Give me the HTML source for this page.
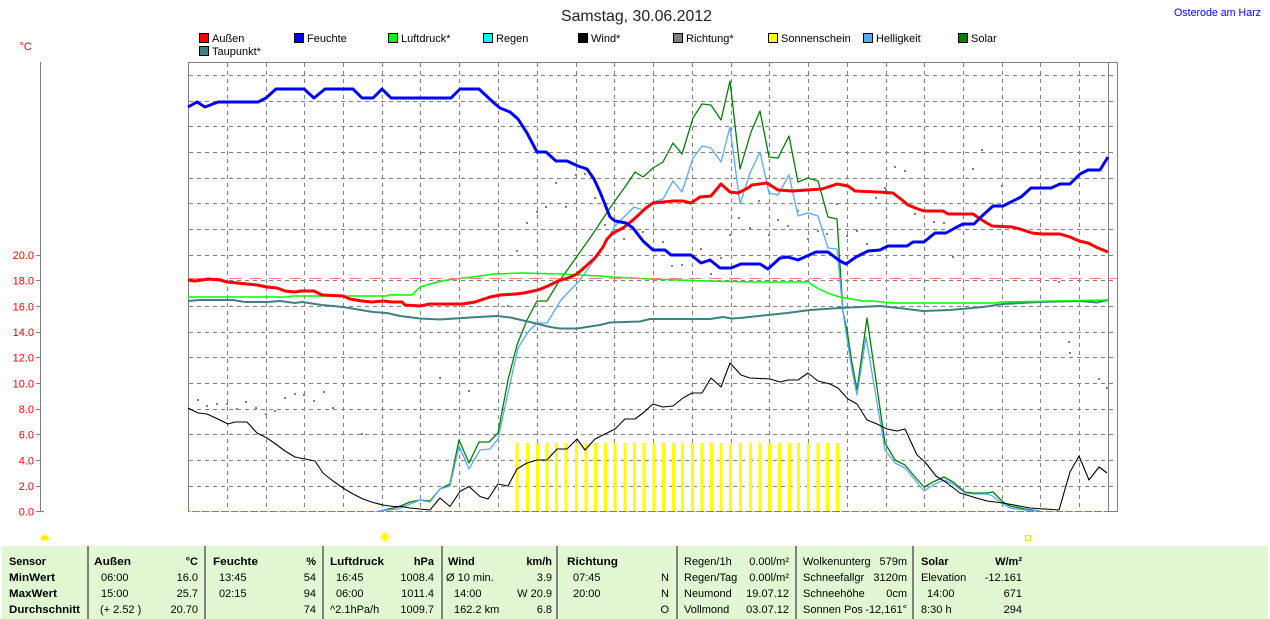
<!DOCTYPE html>
<html><head><meta charset="utf-8"><style>
html,body{margin:0;padding:0;background:#fff;}
svg{display:block;font-family:"Liberation Sans",Arial,sans-serif;}
</style></head><body>
<svg width="1270" height="619" viewBox="0 0 1270 619" xmlns="http://www.w3.org/2000/svg">
<rect width="1270" height="619" fill="#fff"/>
<!-- title -->
<text x="561" y="21" font-size="16" fill="#222" textLength="151" lengthAdjust="spacingAndGlyphs">Samstag, 30.06.2012</text>
<text x="1174" y="16" font-size="11" fill="#0000ff" textLength="87" lengthAdjust="spacingAndGlyphs">Osterode am Harz</text>
<text x="19.5" y="50" font-size="11" fill="#ff0000">°C</text>

<!-- legend -->
<g font-size="11" fill="#000">
<g stroke="#000" stroke-width="1" shape-rendering="crispEdges">
<rect x="199.5" y="33.5" width="9" height="9" fill="#ff0000"/>
<rect x="294.5" y="33.5" width="9" height="9" fill="#0000ff"/>
<rect x="388.5" y="33.5" width="9" height="9" fill="#00ff00"/>
<rect x="483.5" y="33.5" width="9" height="9" fill="#00ffff"/>
<rect x="578.5" y="33.5" width="9" height="9" fill="#000000"/>
<rect x="673.5" y="33.5" width="9" height="9" fill="#808080"/>
<rect x="768.5" y="33.5" width="9" height="9" fill="#ffff00"/>
<rect x="863.5" y="33.5" width="9" height="9" fill="#55aaff"/>
<rect x="958.5" y="33.5" width="9" height="9" fill="#008000"/>
<rect x="199.5" y="46.5" width="9" height="9" fill="#408080"/>
</g>
<text x="212" y="42">Außen</text>
<text x="307" y="42">Feuchte</text>
<text x="401" y="42">Luftdruck*</text>
<text x="496" y="42">Regen</text>
<text x="591" y="42">Wind*</text>
<text x="686" y="42">Richtung*</text>
<text x="781" y="42">Sonnenschein</text>
<text x="876" y="42">Helligkeit</text>
<text x="971" y="42">Solar</text>
<text x="212" y="55">Taupunkt*</text>
</g>

<!-- y axis -->
<g stroke="#808080" stroke-width="1" shape-rendering="crispEdges">
<line x1="40.5" y1="62" x2="40.5" y2="512"/>
<line x1="36" y1="511.5" x2="44" y2="511.5"/>
<line x1="36" y1="486.5" x2="40" y2="486.5"/>
<line x1="36" y1="460.5" x2="40" y2="460.5"/>
<line x1="36" y1="434.5" x2="40" y2="434.5"/>
<line x1="36" y1="409.5" x2="40" y2="409.5"/>
<line x1="36" y1="383.5" x2="40" y2="383.5"/>
<line x1="36" y1="357.5" x2="40" y2="357.5"/>
<line x1="36" y1="332.5" x2="40" y2="332.5"/>
<line x1="36" y1="306.5" x2="40" y2="306.5"/>
<line x1="36" y1="280.5" x2="40" y2="280.5"/>
<line x1="36" y1="255.5" x2="40" y2="255.5"/>
</g>
<g font-size="11" fill="#ff0000" text-anchor="end">
<text x="34" y="515.5">0.0</text>
<text x="34" y="490">2.0</text>
<text x="34" y="464.5">4.0</text>
<text x="34" y="438.5">6.0</text>
<text x="34" y="413">8.0</text>
<text x="34" y="387.5">10.0</text>
<text x="34" y="361.5">12.0</text>
<text x="34" y="336">14.0</text>
<text x="34" y="310.5">16.0</text>
<text x="34" y="284.5">18.0</text>
<text x="34" y="259">20.0</text>
</g>

<!-- grid -->
<g stroke="#808080" stroke-width="1" stroke-dasharray="4,4" shape-rendering="crispEdges">
<line x1="227.5" y1="63" x2="227.5" y2="511"/>
<line x1="266.5" y1="63" x2="266.5" y2="511"/>
<line x1="304.5" y1="63" x2="304.5" y2="511"/>
<line x1="343.5" y1="63" x2="343.5" y2="511"/>
<line x1="382.5" y1="63" x2="382.5" y2="511"/>
<line x1="420.5" y1="63" x2="420.5" y2="511"/>
<line x1="459.5" y1="63" x2="459.5" y2="511"/>
<line x1="498.5" y1="63" x2="498.5" y2="511"/>
<line x1="537.5" y1="63" x2="537.5" y2="511"/>
<line x1="576.5" y1="63" x2="576.5" y2="511"/>
<line x1="614.5" y1="63" x2="614.5" y2="511"/>
<line x1="653.5" y1="63" x2="653.5" y2="511"/>
<line x1="692.5" y1="63" x2="692.5" y2="511"/>
<line x1="731.5" y1="63" x2="731.5" y2="511"/>
<line x1="769.5" y1="63" x2="769.5" y2="511"/>
<line x1="808.5" y1="63" x2="808.5" y2="511"/>
<line x1="847.5" y1="63" x2="847.5" y2="511"/>
<line x1="886.5" y1="63" x2="886.5" y2="511"/>
<line x1="924.5" y1="63" x2="924.5" y2="511"/>
<line x1="963.5" y1="63" x2="963.5" y2="511"/>
<line x1="1002.5" y1="63" x2="1002.5" y2="511"/>
<line x1="1040.5" y1="63" x2="1040.5" y2="511"/>
<line x1="1079.5" y1="63" x2="1079.5" y2="511"/>
<line x1="189" y1="486.5" x2="1117" y2="486.5"/>
<line x1="189" y1="460.5" x2="1117" y2="460.5"/>
<line x1="189" y1="434.5" x2="1117" y2="434.5"/>
<line x1="189" y1="409.5" x2="1117" y2="409.5"/>
<line x1="189" y1="383.5" x2="1117" y2="383.5"/>
<line x1="189" y1="357.5" x2="1117" y2="357.5"/>
<line x1="189" y1="332.5" x2="1117" y2="332.5"/>
<line x1="189" y1="306.5" x2="1117" y2="306.5"/>
<line x1="189" y1="280.5" x2="1117" y2="280.5"/>
<line x1="189" y1="255.5" x2="1117" y2="255.5"/>
<line x1="189" y1="229.5" x2="1117" y2="229.5"/>
<line x1="189" y1="203.5" x2="1117" y2="203.5"/>
<line x1="189" y1="178.5" x2="1117" y2="178.5"/>
<line x1="189" y1="152.5" x2="1117" y2="152.5"/>
<line x1="189" y1="126.5" x2="1117" y2="126.5"/>
<line x1="189" y1="101.5" x2="1117" y2="101.5"/>
<line x1="189" y1="75.5" x2="1117" y2="75.5"/>
</g>

<!-- plot border -->
<rect x="188.5" y="62.5" width="929" height="449" fill="none" stroke="#808080" stroke-width="1" shape-rendering="crispEdges"/>
<line x1="1108.5" y1="62" x2="1108.5" y2="511" stroke="#808080" stroke-width="1" shape-rendering="crispEdges"/>

<!-- sunshine bars -->
<g fill="#ffff00" shape-rendering="crispEdges">
<rect x="515.5" y="443" width="3" height="68"/>
<rect x="526" y="443" width="3" height="68"/>
<rect x="536" y="443" width="3" height="68"/>
<rect x="545.5" y="443" width="3" height="68"/>
<rect x="555" y="443" width="3" height="68"/>
<rect x="564.5" y="443" width="3" height="68"/>
<rect x="575" y="443" width="3" height="68"/>
<rect x="584.5" y="443" width="3" height="68"/>
<rect x="594" y="443" width="3" height="68"/>
<rect x="604" y="443" width="3" height="68"/>
<rect x="613.5" y="443" width="3" height="68"/>
<rect x="623.5" y="443" width="3" height="68"/>
<rect x="633" y="443" width="3" height="68"/>
<rect x="642.5" y="443" width="3" height="68"/>
<rect x="652.5" y="443" width="3" height="68"/>
<rect x="662" y="443" width="3" height="68"/>
<rect x="672" y="443" width="3" height="68"/>
<rect x="681" y="443" width="3" height="68"/>
<rect x="691" y="443" width="3" height="68"/>
<rect x="700.5" y="443" width="3" height="68"/>
<rect x="710" y="443" width="3" height="68"/>
<rect x="719.5" y="443" width="3" height="68"/>
<rect x="729" y="443" width="3" height="68"/>
<rect x="739" y="443" width="3" height="68"/>
<rect x="749" y="443" width="3" height="68"/>
<rect x="758.5" y="443" width="3" height="68"/>
<rect x="768" y="443" width="3" height="68"/>
<rect x="778" y="443" width="3" height="68"/>
<rect x="788" y="443" width="3" height="68"/>
<rect x="797" y="443" width="3" height="68"/>
<rect x="807" y="443" width="3" height="68"/>
<rect x="816.5" y="443" width="3" height="68"/>
<rect x="826" y="443" width="3" height="68"/>
<rect x="836" y="443" width="3" height="68"/>
</g>
<line x1="190" y1="511.5" x2="1108" y2="511.5" stroke="#ffff00" stroke-width="1" stroke-dasharray="2,7.7" shape-rendering="crispEdges"/>

<!-- Richtung dots -->
<g fill="#808080" shape-rendering="crispEdges">
<rect x="197" y="399" width="2" height="2"/><rect x="206" y="405" width="2" height="2"/><rect x="216" y="403" width="2" height="2"/><rect x="226" y="403" width="2" height="2"/><rect x="236" y="408" width="2" height="2"/><rect x="245" y="401" width="2" height="2"/><rect x="255" y="407" width="2" height="2"/><rect x="265" y="413" width="2" height="2"/><rect x="274" y="410" width="2" height="2"/><rect x="284" y="397" width="2" height="2"/><rect x="294" y="393" width="2" height="2"/><rect x="303" y="394" width="2" height="2"/><rect x="313" y="400" width="2" height="2"/><rect x="323" y="391" width="2" height="2"/><rect x="332" y="407" width="2" height="2"/><rect x="361" y="433" width="2" height="2"/><rect x="439" y="377" width="2" height="2"/><rect x="468" y="390" width="2" height="2"/><rect x="507" y="305" width="2" height="2"/><rect x="516" y="250" width="2" height="2"/><rect x="526" y="222" width="2" height="2"/><rect x="536" y="211" width="2" height="2"/><rect x="545" y="206" width="2" height="2"/><rect x="555" y="182" width="2" height="2"/><rect x="565" y="206" width="2" height="2"/><rect x="575" y="174" width="2" height="2"/><rect x="584" y="173" width="2" height="2"/><rect x="594" y="197" width="2" height="2"/><rect x="604" y="224" width="2" height="2"/><rect x="623" y="238" width="2" height="2"/><rect x="642" y="231" width="2" height="2"/><rect x="662" y="241" width="2" height="2"/><rect x="671" y="265" width="2" height="2"/><rect x="681" y="264" width="2" height="2"/><rect x="700" y="248" width="2" height="2"/><rect x="710" y="273" width="2" height="2"/><rect x="720" y="257" width="2" height="2"/><rect x="729" y="234" width="2" height="2"/><rect x="738" y="217" width="2" height="2"/><rect x="749" y="227" width="2" height="2"/><rect x="758" y="200" width="2" height="2"/><rect x="768" y="234" width="2" height="2"/><rect x="777" y="219" width="2" height="2"/><rect x="787" y="225" width="2" height="2"/><rect x="797" y="210" width="2" height="2"/><rect x="807" y="238" width="2" height="2"/><rect x="817" y="230" width="2" height="2"/><rect x="826" y="233" width="2" height="2"/><rect x="836" y="203" width="2" height="2"/><rect x="846" y="235" width="2" height="2"/><rect x="856" y="230" width="2" height="2"/><rect x="866" y="243" width="2" height="2"/><rect x="875" y="197" width="2" height="2"/><rect x="885" y="189" width="2" height="2"/><rect x="894" y="166" width="2" height="2"/><rect x="904" y="170" width="2" height="2"/><rect x="884" y="187" width="2" height="2"/><rect x="914" y="213" width="2" height="2"/><rect x="933" y="221" width="2" height="2"/><rect x="943" y="222" width="2" height="2"/><rect x="952" y="256" width="2" height="2"/><rect x="972" y="168" width="2" height="2"/><rect x="981" y="149" width="2" height="2"/><rect x="1001" y="185" width="2" height="2"/><rect x="1058" y="281" width="2" height="2"/><rect x="1068" y="341" width="2" height="2"/><rect x="1069" y="352" width="2" height="2"/><rect x="1098" y="378" width="2" height="2"/><rect x="1106" y="387" width="2" height="2"/>
</g>

<g fill="none" stroke-linejoin="round">
<!-- Solar -->
<polyline stroke="#008000" stroke-width="1.3" points="380,511 398,507 410,502 420,500 430,501 440,489 450,484 459,440 469,463 479,442 489,442 498,433 508,380 517,345 527,320 537,301 547,301 558,283 590,238 612,205 625,187 635,172 643,177 653,168 663,162 673,143 682,154 693,118 702,104 711,105 721,120 730,81 740,169 751,132 760,111 769,157 778,158 789,136 798,182 808,178 818,181 828,217 837,219 843,312 847,330 852,363 857,390 867,318 885,443 895,460 905,465 915,477 924,487 933,482 944,477 953,482 965,492 973,493 987,493 993,492 1003,502 1010,506 1025,509 1040,511"/>
<!-- Helligkeit -->
<polyline stroke="#55aaff" stroke-width="1.3" points="378,511 398,509 410,504 420,500 430,502 440,489 450,486 459,446 469,469 480,450 490,449 498,439 508,393 518,348 528,332 537,323 547,323 561,300 580,280 600,252 615,226 634,207 643,210 653,202 663,199 673,181 682,192 693,158 702,146 711,148 721,162 730,127 740,204 750,173 760,152 769,193 778,195 789,175 798,216 808,213 818,216 828,248 837,249 843,312 848,345 852,370 857,395 866,337 885,450 895,463 905,468 915,480 924,491 933,485 944,480 953,484 965,493 973,494 986,494 991,495 1003,504 1010,508 1025,510 1040,511"/>
<!-- Wind -->
<polyline stroke="#000000" stroke-width="1.1" points="188,408 198,413 207,414 220,420 228,424 235,422 247,422 257,433 267,438 277,445 285,451 295,457 305,459 315,461 323,473 333,481 343,488 353,494 363,499 373,502.5 383,505 393,506.5 402,506.5 410,508 420,509 430,510 440,498 450,506.5 460,491.5 469,486.5 480,496.5 488,499 498,484 508,486 517,469 527,463 537,460 547,460 557,449 567,449 577,439 585,450 595,439 605,434 615,429 625,419 635,419 643,413 653,404 663,407 673,406 683,398 692,393 702,393 711,378 721,387 730,363 741,375 750,378 770,379 780,382 788,380 798,380 808,373 818,381 830,384 838,388 848,399 857,404 867,420 877,424 887,429 897,431 905,429 917,455 925,462 936,476 947,483 960,493 973,497 987,501 1003,503 1030,508 1059,510 1070,472 1079,456 1089,480 1099,467 1107,473"/>
<!-- Taupunkt -->
<polyline stroke="#408080" stroke-width="2" points="188,301 200,300 233,300 245,302 267,302 280,301 295,303 302,302 322,305 343,307 373,312 387,313 400,316 420,318.5 440,319.5 470,317.5 497,316 510,317.5 530,322 550,327 560,328.5 577,328.5 600,325 610,322.5 640,321.5 650,319 700,319 710,319 723,317 732,318.5 740,318 787,313 810,310 840,308 880,306 903,308.5 923,311 950,310 983,307 1003,304 1040,302 1080,301 1097,302.5 1108,300"/>
<!-- Luftdruck -->
<polyline stroke="#00ff00" stroke-width="1.5" points="188,297 290,297 291,296 387,296 388,295 412,295 420,287 430,284 447,280 480,276 493,274 522,273 560,274 600,276 612,277 650,279 707,281 757,282 808,282 817,288 830,294 840,297 863,301 873,301 891,303 997,303 1000,302 1053,301 1108,300"/>
</g>
<!-- red dashed reference -->
<line x1="189" y1="278.5" x2="1117" y2="278.5" stroke="#ff8080" stroke-width="1" stroke-dasharray="13,7" shape-rendering="crispEdges"/>
<g fill="none" stroke-linejoin="round">
<!-- Aussen -->
<polyline stroke="#ff0000" stroke-width="3" points="188,280 195,281 202,280 208,279 220,280 227,282 237,283 247,284 257,285 267,287 277,288 285,291 295,292 301,291 314,291 322,295 343,296 350,299 362,301 372,302 383,301 392,302 402,302 405,305 420,306 430,304 463,304 475,302 490,297 500,295 516,294 524,293 538,290 548,286 558,281 568,278 577,274 585,267 595,258 603,247 607,239 613,233 623,228 633,220 646,208 653,203 663,202 673,201 683,201 691,203 700,197 711,196 721,184 730,192 738,193 748,188 752,185 767,183 778,190 792,191 822,189 837,184 848,186 855,191 877,192 893,193 902,200 908,205 918,209 924,211 943,211 948,214 973,214 985,222 992,226 1012,227 1020,229 1032,233 1042,234 1060,234 1070,237 1079,241 1088,243 1098,248 1108,252"/>
<!-- Feuchte -->
<polyline stroke="#0000ff" stroke-width="3" points="188,107 197,102 205,107 218,102 258,102 266,98 276,89 304,89 314,98 325,89 353,89 362,98 373,98 382,89 391,98 451,98 460,89 479,89 494,103 500,108 510,112 518,119 527,133 537,152 546,152 556,161 567,161 578,166 587,169 594,179 600,192 610,217 615,221 626,223 633,228 643,241 653,250 665,250 671,255 691,255 701,263 710,260 720,268 731,268 741,264 760,264 768,269 780,258 788,257 798,260 816,252 828,252 840,261 846,264 856,257 868,251 880,250 888,246 907,246 913,242 924,242 935,233 946,233 955,228 963,224 974,224 982,216 993,206 1003,206 1011,202 1021,197 1031,188 1051,188 1060,184 1070,184 1080,174 1088,170 1100,170 1108,157"/>
</g>

<!-- sun icons -->
<path d="M40.5,540.5 Q40.5,535 44.7,535 Q49,535 49,540.5 Z" fill="#ffee00"/>
<g stroke="#ffee00" stroke-width="1">
<line x1="379.5" y1="537" x2="390.5" y2="537"/>
<line x1="385" y1="531.5" x2="385" y2="542.5"/>
<line x1="381" y1="533" x2="389" y2="541"/>
<line x1="389" y1="533" x2="381" y2="541"/>
</g>
<circle cx="385" cy="537" r="3.2" fill="#ffff00"/>
<rect x="1025.5" y="535.5" width="5" height="5" fill="#ffffd0" stroke="#e8e800" stroke-width="1"/>

<!-- table -->
<rect x="2" y="546" width="1266" height="73" fill="#e1f8d2"/>
<g stroke="#808080" stroke-width="2" shape-rendering="crispEdges">
<line x1="88" y1="546" x2="88" y2="619"/>
<line x1="205" y1="546" x2="205" y2="619"/>
<line x1="323" y1="546" x2="323" y2="619"/>
<line x1="442" y1="546" x2="442" y2="619"/>
<line x1="557" y1="546" x2="557" y2="619"/>
<line x1="677" y1="546" x2="677" y2="619"/>
<line x1="796" y1="546" x2="796" y2="619"/>
<line x1="913" y1="546" x2="913" y2="619"/>
</g>
<g font-size="11" fill="#000">
<g font-weight="bold">
<text x="9" y="565" textLength="37" lengthAdjust="spacingAndGlyphs">Sensor</text>
<text x="9" y="581" textLength="46" lengthAdjust="spacingAndGlyphs">MinWert</text>
<text x="9" y="597" textLength="48" lengthAdjust="spacingAndGlyphs">MaxWert</text>
<text x="9" y="613" textLength="71" lengthAdjust="spacingAndGlyphs">Durchschnitt</text>
<text x="94" y="565" textLength="37" lengthAdjust="spacingAndGlyphs">Außen</text>
<text x="198" y="565" text-anchor="end">°C</text>
<text x="213" y="565" textLength="45" lengthAdjust="spacingAndGlyphs">Feuchte</text>
<text x="316" y="565" text-anchor="end">%</text>
<text x="330" y="565" textLength="54" lengthAdjust="spacingAndGlyphs">Luftdruck</text>
<text x="434" y="565" text-anchor="end">hPa</text>
<text x="448" y="565">Wind</text>
<text x="552" y="565" text-anchor="end">km/h</text>
<text x="567" y="565" textLength="51" lengthAdjust="spacingAndGlyphs">Richtung</text>
<text x="921" y="565">Solar</text>
<text x="1022" y="565" text-anchor="end">W/m²</text>
</g>
<text x="101" y="581">06:00</text><text x="198" y="581" text-anchor="end">16.0</text>
<text x="101" y="597">15:00</text><text x="198" y="597" text-anchor="end">25.7</text>
<text x="100" y="613">(+ 2.52 )</text><text x="198" y="613" text-anchor="end">20.70</text>

<text x="219" y="581">13:45</text><text x="316" y="581" text-anchor="end">54</text>
<text x="219" y="597">02:15</text><text x="316" y="597" text-anchor="end">94</text>
<text x="316" y="613" text-anchor="end">74</text>

<text x="336" y="581">16:45</text><text x="434" y="581" text-anchor="end">1008.4</text>
<text x="336" y="597">06:00</text><text x="434" y="597" text-anchor="end">1011.4</text>
<text x="330" y="613">^2.1hPa/h</text><text x="434" y="613" text-anchor="end">1009.7</text>

<text x="446" y="581">Ø 10 min.</text><text x="552" y="581" text-anchor="end">3.9</text>
<text x="454" y="597">14:00</text><text x="552" y="597" text-anchor="end">W 20.9</text>
<text x="454" y="613">162.2 km</text><text x="552" y="613" text-anchor="end">6.8</text>

<text x="573" y="581">07:45</text><text x="669" y="581" text-anchor="end">N</text>
<text x="573" y="597">20:00</text><text x="669" y="597" text-anchor="end">N</text>
<text x="669" y="613" text-anchor="end">O</text>

<text x="684" y="565">Regen/1h</text><text x="789" y="565" text-anchor="end">0.00l/m²</text>
<text x="684" y="581">Regen/Tag</text><text x="789" y="581" text-anchor="end">0.00l/m²</text>
<text x="684" y="597">Neumond</text><text x="789" y="597" text-anchor="end">19.07.12</text>
<text x="684" y="613">Vollmond</text><text x="789" y="613" text-anchor="end">03.07.12</text>

<text x="803" y="565">Wolkenunterg</text><text x="907" y="565" text-anchor="end">579m</text>
<text x="803" y="581">Schneefallgr</text><text x="907" y="581" text-anchor="end">3120m</text>
<text x="803" y="597">Schneehöhe</text><text x="907" y="597" text-anchor="end">0cm</text>
<text x="803" y="613">Sonnen Pos</text><text x="907" y="613" text-anchor="end">-12,161°</text>

<text x="921" y="581">Elevation</text><text x="1022" y="581" text-anchor="end">-12.161</text>
<text x="927" y="597">14:00</text><text x="1022" y="597" text-anchor="end">671</text>
<text x="921" y="613">8:30 h</text><text x="1022" y="613" text-anchor="end">294</text>
</g>
</svg>
</body></html>
